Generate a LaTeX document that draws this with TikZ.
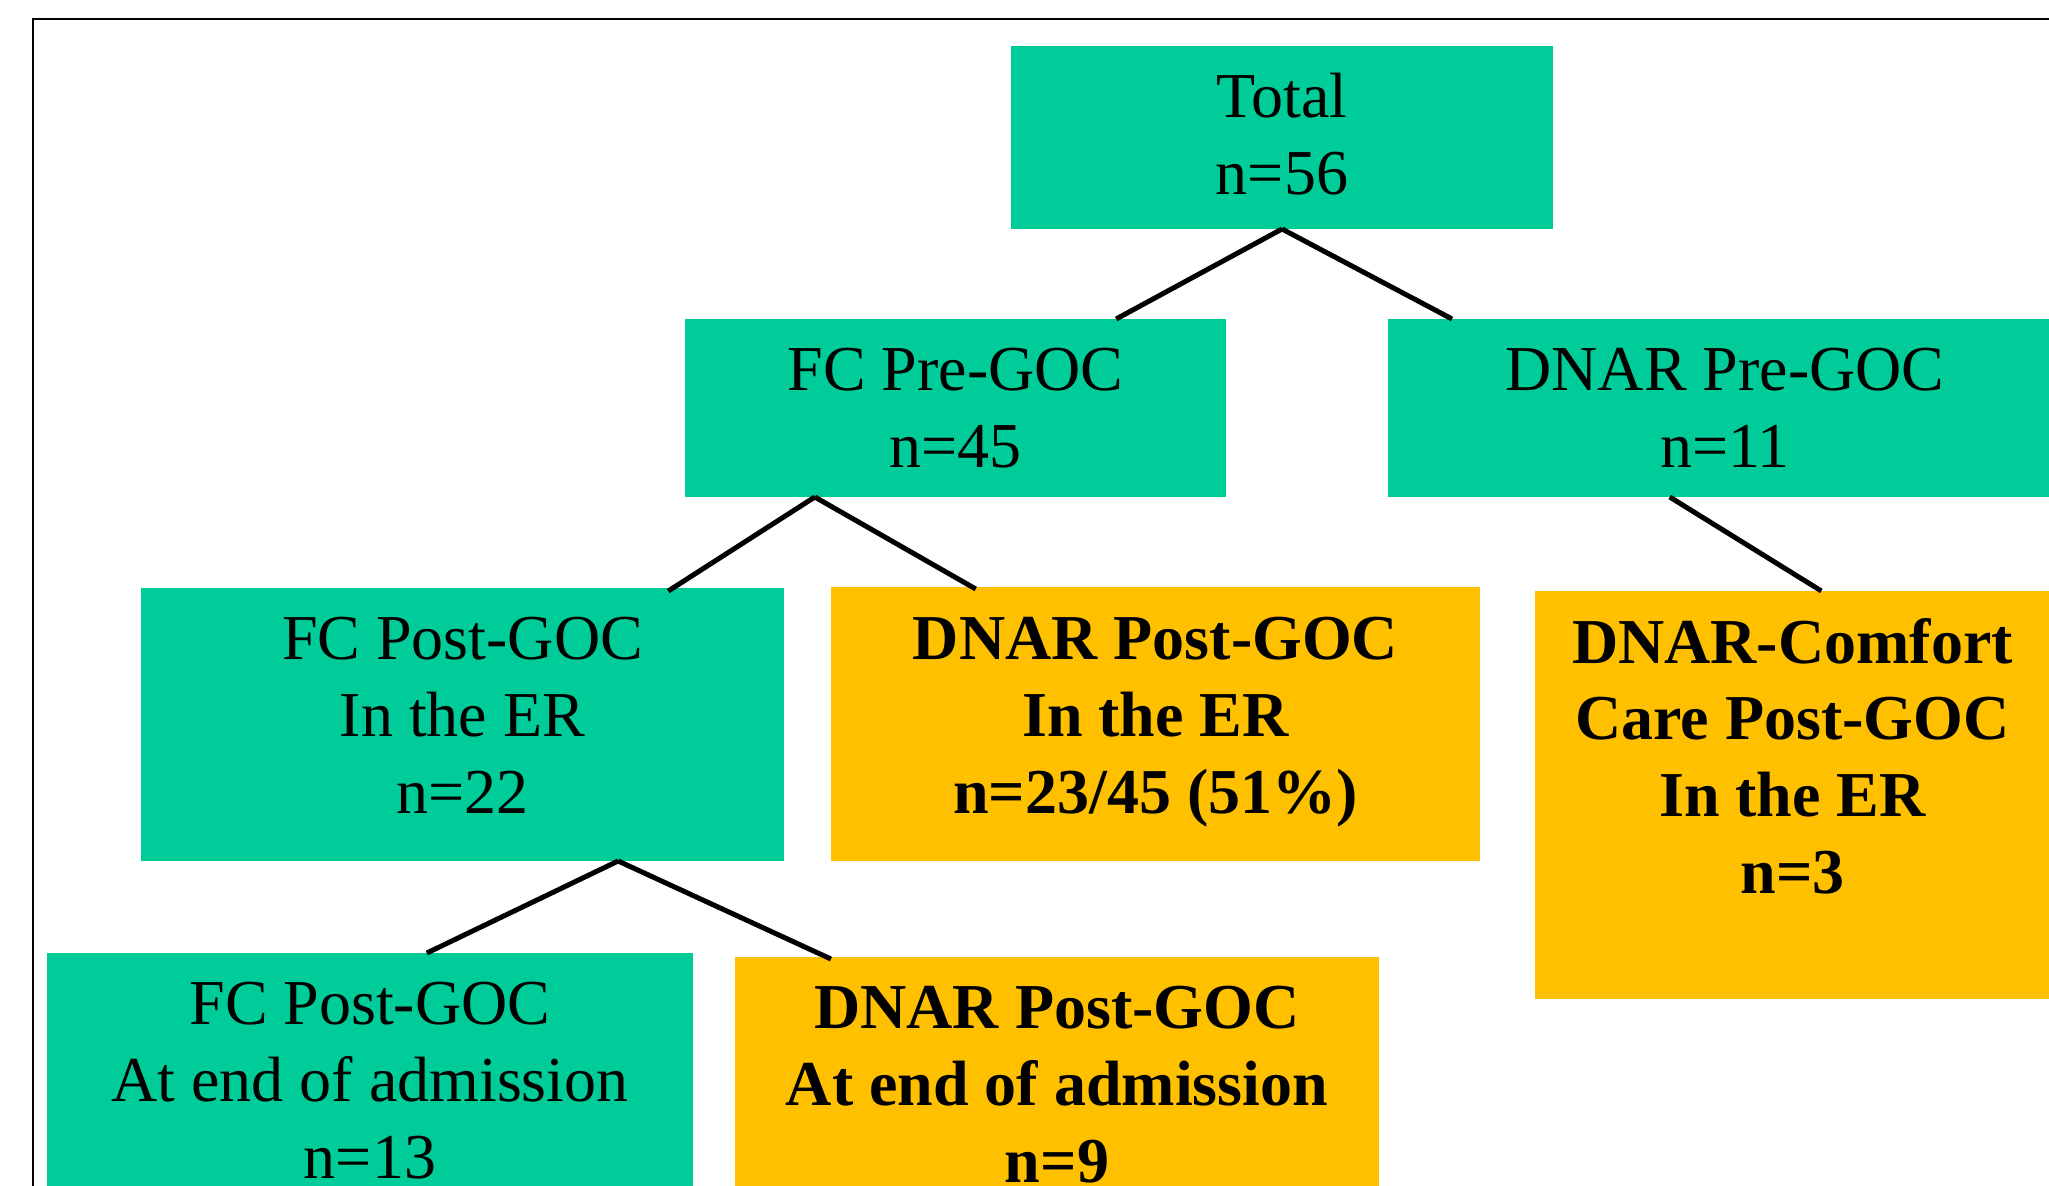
\documentclass[tikz,border=0pt]{standalone}
\usepackage{fontspec}
\setmainfont{Liberation Serif}
\usetikzlibrary{calc}
\definecolor{boxgreen}{RGB}{0,204,153}
\definecolor{boxorange}{RGB}{255,192,0}
\begin{document}
\begin{tikzpicture}[x=1pt,y=-1pt,
  gbox/.style={fill=boxgreen, draw=none, inner sep=0pt, outer sep=0pt, anchor=north west},
  obox/.style={fill=boxorange, draw=none, inner sep=0pt, outer sep=0pt, anchor=north west},
  txt/.style={align=center, anchor=base, inner sep=0pt, font=\fontsize{64}{76.8}\selectfont},
  btxt/.style={align=center, anchor=base, inner sep=0pt, font=\fontsize{64}{76.8}\selectfont\bfseries},
  conn/.style={line width=5pt, draw=black}]
\useasboundingbox (0,0) rectangle (2049,1185);
\clip (0,0) rectangle (2049,1185);
\fill[white] (0,0) rectangle (2049,1185);
\draw[line width=2.5pt] (33,19) rectangle (2150,1300);

% boxes
\node[gbox, minimum width=542pt, minimum height=183pt] (total) at (1011,46) {};
\node[gbox, minimum width=541pt, minimum height=178pt] (fcpre) at (685,319) {};
\node[gbox, minimum width=674pt, minimum height=178pt] (dnarpre) at (1388,319) {};
\node[gbox, minimum width=643pt, minimum height=273pt] (fcer) at (141,588) {};
\node[obox, minimum width=649pt, minimum height=274pt] (dnarer) at (831,587) {};
\node[obox, minimum width=515pt, minimum height=408pt] (comfort) at (1535,591) {};
\node[gbox, minimum width=646pt, minimum height=300pt] (fcend) at (47,953) {};
\node[obox, minimum width=644pt, minimum height=300pt] (dnarend) at (735,957) {};

% texts (anchor=base is the baseline of the last line)
\node[txt] (totaltxt) at ($(total.north)+(0,148.5)$) {Total\\n=56};
\node[txt] (fcpretxt) at ($(fcpre.north)+(0,148.5)$) {FC Pre-GOC\\n=45};
\node[txt] (dnarpretxt) at ($(dnarpre.north)+(0,148.5)$) {DNAR Pre-GOC\\n=11};
\node[txt] (fcertxt) at ($(fcer.north)+(0,225.5)$) {FC Post-GOC\\In the ER\\n=22};
\node[btxt] (dnarertxt) at ($(dnarer.north)+(0,226.5)$) {DNAR Post-GOC\\In the ER\\n=23/45 (51\%)};
\node[btxt] (comforttxt) at ($(comfort.north)+(0,302.5)$) {DNAR-Comfort\\Care Post-GOC\\In the ER\\n=3};
\node[txt] (fcendtxt) at ($(fcend.north)+(0,225.5)$) {FC Post-GOC\\At end of admission\\n=13};
\node[btxt] (dnarendtxt) at ($(dnarend.north)+(0,225.5)$) {DNAR Post-GOC\\At end of admission\\n=9};

% connectors
\draw[conn] (total.south) -- ($(fcpre.north west)!0.797!(fcpre.north east)$);
\draw[conn] (total.south) -- ($(dnarpre.north west)!0.095!(dnarpre.north east)$);
\draw[conn] ($(fcpre.south west)!0.24!(fcpre.south east)$) -- ($(fcer.north west)!0.82!(fcer.north east)+(0,3)$);
\draw[conn] ($(fcpre.south west)!0.24!(fcpre.south east)$) -- ($(dnarer.north west)!0.223!(dnarer.north east)+(0,2)$);
\draw[conn] ($(dnarpre.south west)!0.418!(dnarpre.south east)$) -- ($(comfort.north west)!0.556!(comfort.north east)$);
\draw[conn] ($(fcer.south west)!0.742!(fcer.south east)$) -- ($(fcend.north west)!0.588!(fcend.north east)$);
\draw[conn] ($(fcer.south west)!0.742!(fcer.south east)$) -- ($(dnarend.north west)!0.149!(dnarend.north east)+(0,2)$);
\end{tikzpicture}
\end{document}
